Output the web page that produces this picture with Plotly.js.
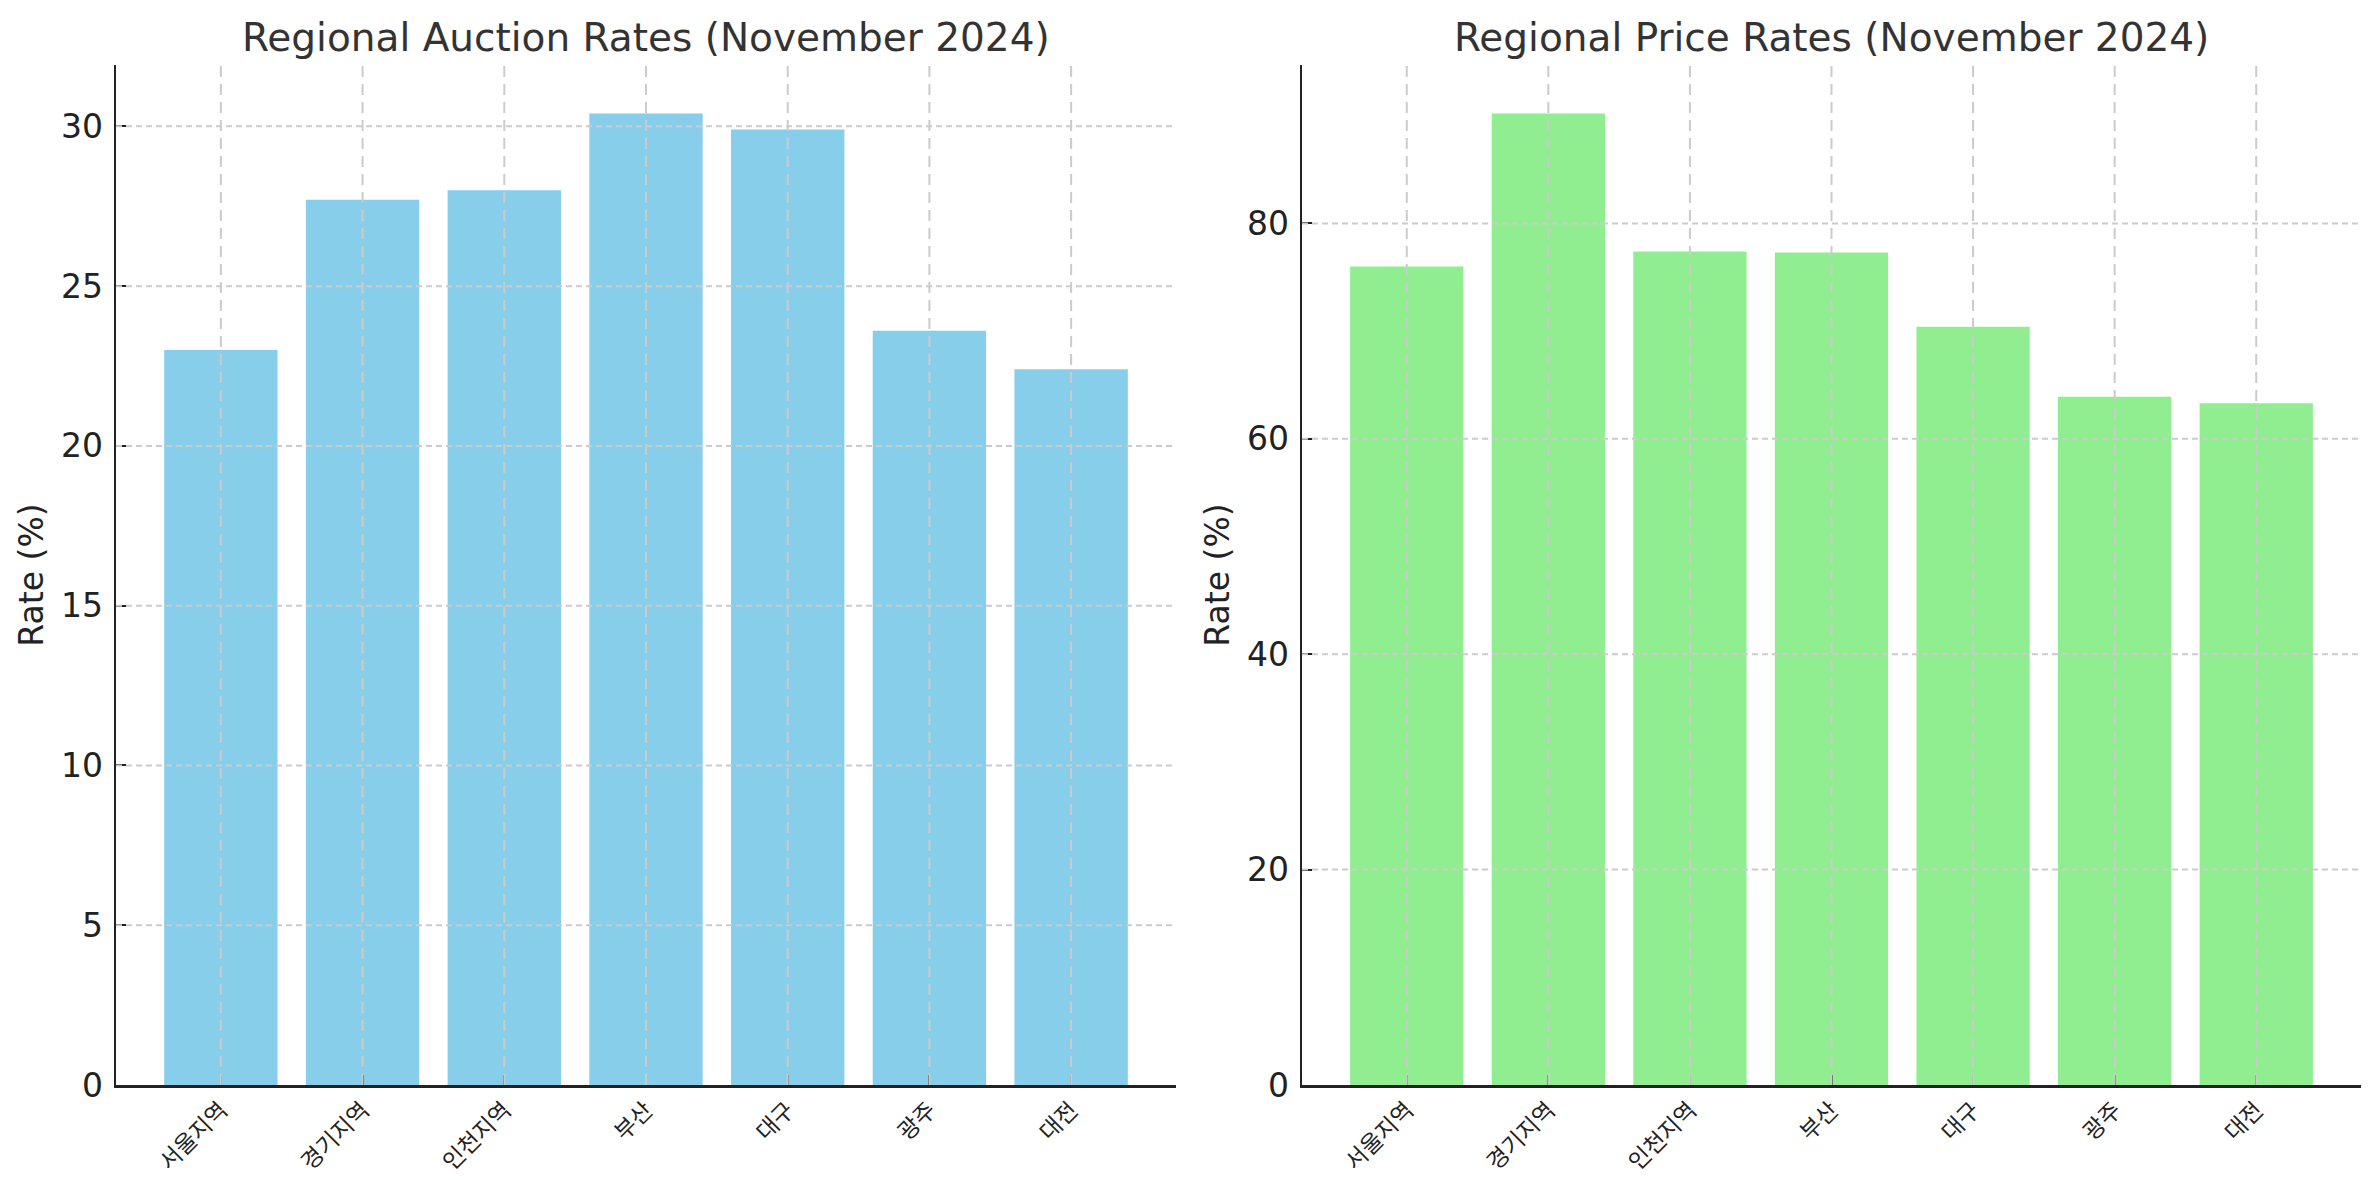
<!DOCTYPE html>
<html>
<head>
<meta charset="utf-8">
<script src="https://cdn.plot.ly/plotly-3.0.1.min.js"></script>
<style>
  html, body { margin: 0; padding: 0; background: #fff; }
  #chart { width: 2379px; height: 1180px; }
</style>
</head>
<body>
<div id="chart"></div>
<script>
// Region labels (rendered as missing glyphs in the source image)
const regions = ['서울지역', '경기지역', '인천지역', '부산', '대구', '광주', '대전'];

// November 2024 rates (%)
const auctionRates = [23.0, 27.7, 28.0, 30.4, 29.9, 23.6, 22.4];
const priceRates = [76.0, 90.2, 77.4, 77.3, 70.4, 63.9, 63.3];

const auctionTicks = [0, 5, 10, 15, 20, 25, 30];
const priceTicks = [0, 20, 40, 60, 80];

const FONT = 'DejaVu Sans, Noto Sans CJK KR, sans-serif';
const idx = regions.map((_, i) => i);
const GRID = '#cbcbcb';

function xAxis(anchor) {
  return {
    anchor: anchor,
    tickmode: 'array',
    tickvals: idx,
    ticktext: regions,
    range: [-0.74, idx.length - 1 + 0.74],
    tickangle: -45,
    ticks: 'inside',
    ticklen: 10,
    tickwidth: 2,
    tickcolor: '#222',
    showline: true,
    linecolor: '#222',
    linewidth: 2.5,
    showgrid: false,
    zeroline: false,
    layer: 'above traces',
    tickfont: { family: FONT, size: 23, color: '#222' },
    fixedrange: true
  };
}

function yAxis(anchor, vals, top) {
  return {
    anchor: anchor,
    range: [0, top * 1.05],
    tickmode: 'array',
    tickvals: vals,
    ticks: 'inside',
    ticklen: 10,
    tickwidth: 2,
    tickcolor: '#222',
    showline: true,
    linecolor: '#222',
    linewidth: 2.5,
    showgrid: false,
    zeroline: false,
    layer: 'above traces',
    ticklabelstandoff: 4,
    tickfont: { family: FONT, size: 33, color: '#222' },
    title: { text: 'Rate (%)', font: { family: FONT, size: 33, color: '#222' }, standoff: 8 },
    fixedrange: true
  };
}

// grid lines drawn above the bars, as in the source
function gridShapes(xref, yref, vals) {
  const s = [];
  idx.forEach(i => s.push({
    type: 'line', layer: 'above', xref: xref, yref: yref + ' domain',
    x0: i, x1: i, y0: 0, y1: 1,
    line: { color: GRID, width: 2, dash: '11px,7px' }
  }));
  vals.filter(v => v > 0).forEach(v => s.push({
    type: 'line', layer: 'above', xref: xref + ' domain', yref: yref,
    x0: 0, x1: 1, y0: v, y1: v,
    line: { color: GRID, width: 2, dash: '6px,4px' }
  }));
  return s;
}

const traces = [
  {
    type: 'bar', x: idx, y: auctionRates, xaxis: 'x', yaxis: 'y',
    marker: { color: '#87CEEB' }, hoverinfo: 'skip'
  },
  {
    type: 'bar', x: idx, y: priceRates, xaxis: 'x2', yaxis: 'y2',
    marker: { color: '#90EE90' }, hoverinfo: 'skip'
  }
];

const yDomain = [95 / 1180, 1 - 65 / 1180];

const layout = {
  width: 2379,
  height: 1180,
  margin: { l: 0, r: 0, t: 0, b: 0 },
  paper_bgcolor: '#fff',
  plot_bgcolor: '#fff',
  showlegend: false,
  bargap: 0.2,
  xaxis: Object.assign(xAxis('y'), { domain: [116 / 2379, 1176 / 2379] }),
  yaxis: Object.assign(yAxis('x', auctionTicks, Math.max(...auctionRates)), { domain: yDomain }),
  xaxis2: Object.assign(xAxis('y2'), { domain: [1302 / 2379, 2361 / 2379] }),
  yaxis2: Object.assign(yAxis('x2', priceTicks, Math.max(...priceRates)), { domain: yDomain }),
  shapes: gridShapes('x', 'y', auctionTicks).concat(gridShapes('x2', 'y2', priceTicks)),
  annotations: [
    {
      text: 'Regional Auction Rates (November 2024)',
      xref: 'paper', yref: 'paper', x: (116 + 1176) / 2 / 2379, y: 1 - 37 / 1180,
      xanchor: 'center', yanchor: 'middle', showarrow: false,
      font: { family: FONT, size: 39, color: '#333' }
    },
    {
      text: 'Regional Price Rates (November 2024)',
      xref: 'paper', yref: 'paper', x: (1302 + 2361) / 2 / 2379, y: 1 - 37 / 1180,
      xanchor: 'center', yanchor: 'middle', showarrow: false,
      font: { family: FONT, size: 39, color: '#333' }
    }
  ]
};

Plotly.newPlot('chart', traces, layout, { displayModeBar: false, staticPlot: true });
</script>
</body>
</html>
